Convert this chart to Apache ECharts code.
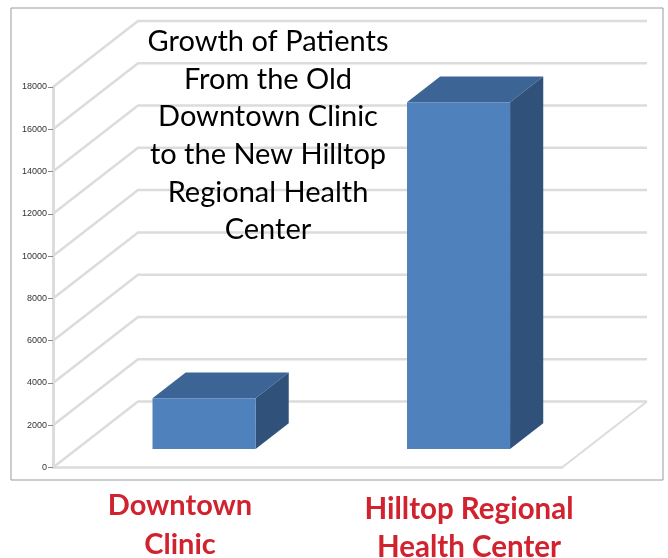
<!DOCTYPE html>
<html>
<head>
<meta charset="utf-8">
<script src="https://cdn.jsdelivr.net/npm/echarts@6/dist/echarts.min.js"></script>
<style>html,body{margin:0;padding:0;background:#fff}#c{width:668px;height:558px}</style>
</head>
<body>
<div id="c"></div>
<script>
var categories = ['Downtown Clinic', 'Hilltop Regional Health Center'];
var categoryLabels = ['Downtown\nClinic', 'Hilltop Regional\nHealth Center'];
var patients = [2400, 16400];
var yTicks = [0, 2000, 4000, 6000, 8000, 10000, 12000, 14000, 16000, 18000];
var titleText = 'Growth of Patients\nFrom the Old\nDowntown Clinic\nto the New Hilltop\nRegional Health\nCenter';

var DX = 85, DY = -66;       // depth offset of back wall
var D0 = 0.28, D1 = 0.67;    // bar depth (front/back fraction)
var BAR_W = 0.405;           // bar width as fraction of band
var GRID_COLOR = '#dcdcdc';

var chart = echarts.init(document.getElementById('c'));

function wallRender(params, api) {
  var cs = params.coordSys;
  var v = api.value(0);
  var y = api.coord([0, v])[1];
  var x0 = cs.x, x1 = cs.x + cs.width;
  var children = [{
    type: 'polyline',
    shape: { points: [[x0, y], [x0 + DX, y + DY], [x1 + DX, y + DY]] },
    style: { stroke: GRID_COLOR, lineWidth: 2.5, fill: null }
  }];
  if (v === 0) {
    children.push({
      type: 'line',
      shape: { x1: x1, y1: y, x2: x1 + DX, y2: y + DY },
      style: { stroke: GRID_COLOR, lineWidth: 2 }
    });
  }
  return { type: 'group', children: children };
}

function barRender(params, api) {
  var idx = api.value(0), val = api.value(1);
  var base = api.coord([idx, 0]);
  var top = api.coord([idx, val]);
  var band = api.size([1, 0])[0];
  var w = band * BAR_W;
  var xl = base[0] - w / 2, xr = base[0] + w / 2;
  var yt = top[1], yb = base[1];
  var fx = D0 * DX, fy = D0 * DY, bx = D1 * DX, by = D1 * DY;
  return {
    type: 'group',
    children: [
      { type: 'polygon', shape: { points: [[xl + fx, yt + fy], [xr + fx, yt + fy], [xr + bx, yt + by], [xl + bx, yt + by]] },
        style: { fill: '#3c6595' } },
      { type: 'polygon', shape: { points: [[xr + fx, yt + fy], [xr + bx, yt + by], [xr + bx, yb + by], [xr + fx, yb + fy]] },
        style: { fill: '#30527a' } },
      { type: 'rect', shape: { x: xl + fx, y: yt + fy, width: w, height: yb - yt },
        style: { fill: '#4f81bd' } }
    ]
  };
}

chart.setOption({
  animation: false,
  backgroundColor: '#ffffff',
  grid: { left: 53, right: 106, top: 87, bottom: 90.5 },
  xAxis: {
    type: 'category',
    data: categories,
    axisLine: { show: true, lineStyle: { color: GRID_COLOR, width: 2.5 } },
    axisTick: { show: false },
    axisLabel: { show: false },
    splitLine: { show: false }
  },
  yAxis: {
    type: 'value',
    min: 0, max: 18000, interval: 2000,
    axisLine: { show: true, lineStyle: { color: GRID_COLOR, width: 3 } },
    axisTick: { show: true, length: 5, lineStyle: { color: '#888', width: 1 } },
    axisLabel: { color: '#333', fontSize: 9, fontFamily: 'Liberation Sans', margin: 6,
      formatter: function (v) { return String(v); } },
    splitLine: { show: false }
  },
  graphic: [
    { type: 'rect', shape: { x: 11, y: 8, width: 652, height: 472 },
      style: { fill: null, stroke: '#9a9a9a', lineWidth: 1 }, z: 0, silent: true },
    { type: 'text', x: 268, y: 23, z: 10, style: { text: titleText, textAlign: 'center', fill: '#000',
      font: '29px Lato', lineHeight: 37.6 } },
    { type: 'text', x: 180, y: 486, style: { text: categoryLabels[0], textAlign: 'center', fill: '#d0232f',
      font: 'bold 29px Lato', lineHeight: 39 } },
    { type: 'text', x: 469, y: 490, style: { text: categoryLabels[1], textAlign: 'center', fill: '#d0232f',
      font: 'bold 29.5px Lato', lineHeight: 38.5 } }
  ],
  series: [
    { type: 'custom', renderItem: wallRender, data: yTicks.map(function (v) { return [v]; }), z: 1, silent: true },
    { type: 'custom', renderItem: barRender, data: patients.map(function (v, i) { return [i, v]; }), z: 3 }
  ]
});
</script>
</body>
</html>
